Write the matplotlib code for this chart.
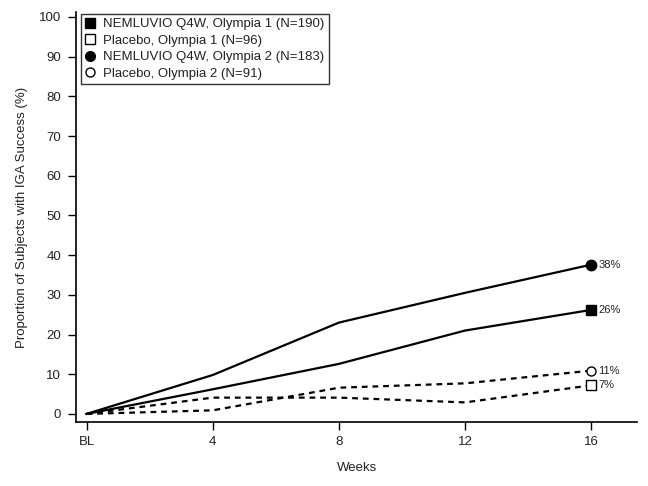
import matplotlib.pyplot as plt
import numpy as np

plt.rcParams['font.family'] = ['Liberation Sans', 'DejaVu Sans']

# Weeks (BL = 0)
weeks = [0, 4, 8, 12, 16]
week_labels = ['BL', '4', '8', '12', '16']

# Proportion of subjects with IGA success (%)
nem_oly1 = [0, 6.2, 12.6, 21.0, 26.2]
pbo_oly1 = [0, 4.1, 4.1, 2.9, 7.2]
nem_oly2 = [0, 9.8, 23.0, 30.5, 37.6]
pbo_oly2 = [0, 0.9, 6.6, 7.7, 10.9]

names = ['NEMLUVIO Q4W, Olympia 1 (N=190)',
         'Placebo, Olympia 1 (N=96)',
         'NEMLUVIO Q4W, Olympia 2 (N=183)',
         'Placebo, Olympia 2 (N=91)']
end_labels = ['26%', '7%', '38%', '11%']

series = [nem_oly1, pbo_oly1, nem_oly2, pbo_oly2]
markers = ['s', 's', 'o', 'o']
filled = [True, False, True, False]
dashed = [False, True, False, True]

txt = '#222222'

fig = plt.figure(figsize=(6.48, 4.86), dpi=100)
ax = fig.add_axes([0.118, 0.132, 0.865, 0.843])

handles = []
for vals, m, f, d, lab in zip(series, markers, filled, dashed, end_labels):
    ls = (0, (2.6, 2.2)) if d else '-'
    ms = 7.5 if f else 6.5
    ax.plot(weeks, vals, color='black', lw=1.6, linestyle=ls, zorder=2)
    ax.plot(weeks[-1], vals[-1], marker=m, markersize=ms,
            markerfacecolor='black' if f else 'white', markeredgecolor='black',
            markeredgewidth=1.0, linestyle='none', zorder=3)
    ax.annotate(lab, (weeks[-1], vals[-1]), xytext=(5, 0), textcoords='offset points',
                va='center', ha='left', fontsize=8, color=txt)
    h, = ax.plot([], [], marker=m, markersize=7 if f else 6.5, linestyle='none',
                 markerfacecolor='black' if f else 'white', markeredgecolor='black',
                 markeredgewidth=1.0)
    handles.append(h)

ax.set_xlim(-0.32, 17.45)
ax.set_ylim(-2.0, 101.2)
ax.set_xticks(weeks)
ax.set_xticklabels(week_labels)
ax.set_yticks(np.arange(0, 101, 10))
ax.tick_params(labelsize=9.5, length=6, width=1, direction='out', pad=5,
               labelcolor=txt)
ax.tick_params(axis='x', pad=4)

for s in ['top', 'right']:
    ax.spines[s].set_visible(False)
for s in ['left', 'bottom']:
    ax.spines[s].set_linewidth(1.2)

ax.set_xlabel('Weeks', fontsize=9.5, labelpad=10, color=txt)
ax.set_ylabel('Proportion of Subjects with IGA Success (%)', fontsize=9.5,
              labelpad=8, color=txt)

leg = ax.legend(handles, names, loc='upper left', bbox_to_anchor=(0.008, 0.995),
                fontsize=9.5, frameon=True, fancybox=False, edgecolor='black',
                handlelength=0.8, handletextpad=0.6, borderpad=0.3,
                labelspacing=0.32, borderaxespad=0)
leg.get_frame().set_linewidth(1.0)
for t in leg.get_texts():
    t.set_color(txt)

fig.savefig('out.png', dpi=100)
